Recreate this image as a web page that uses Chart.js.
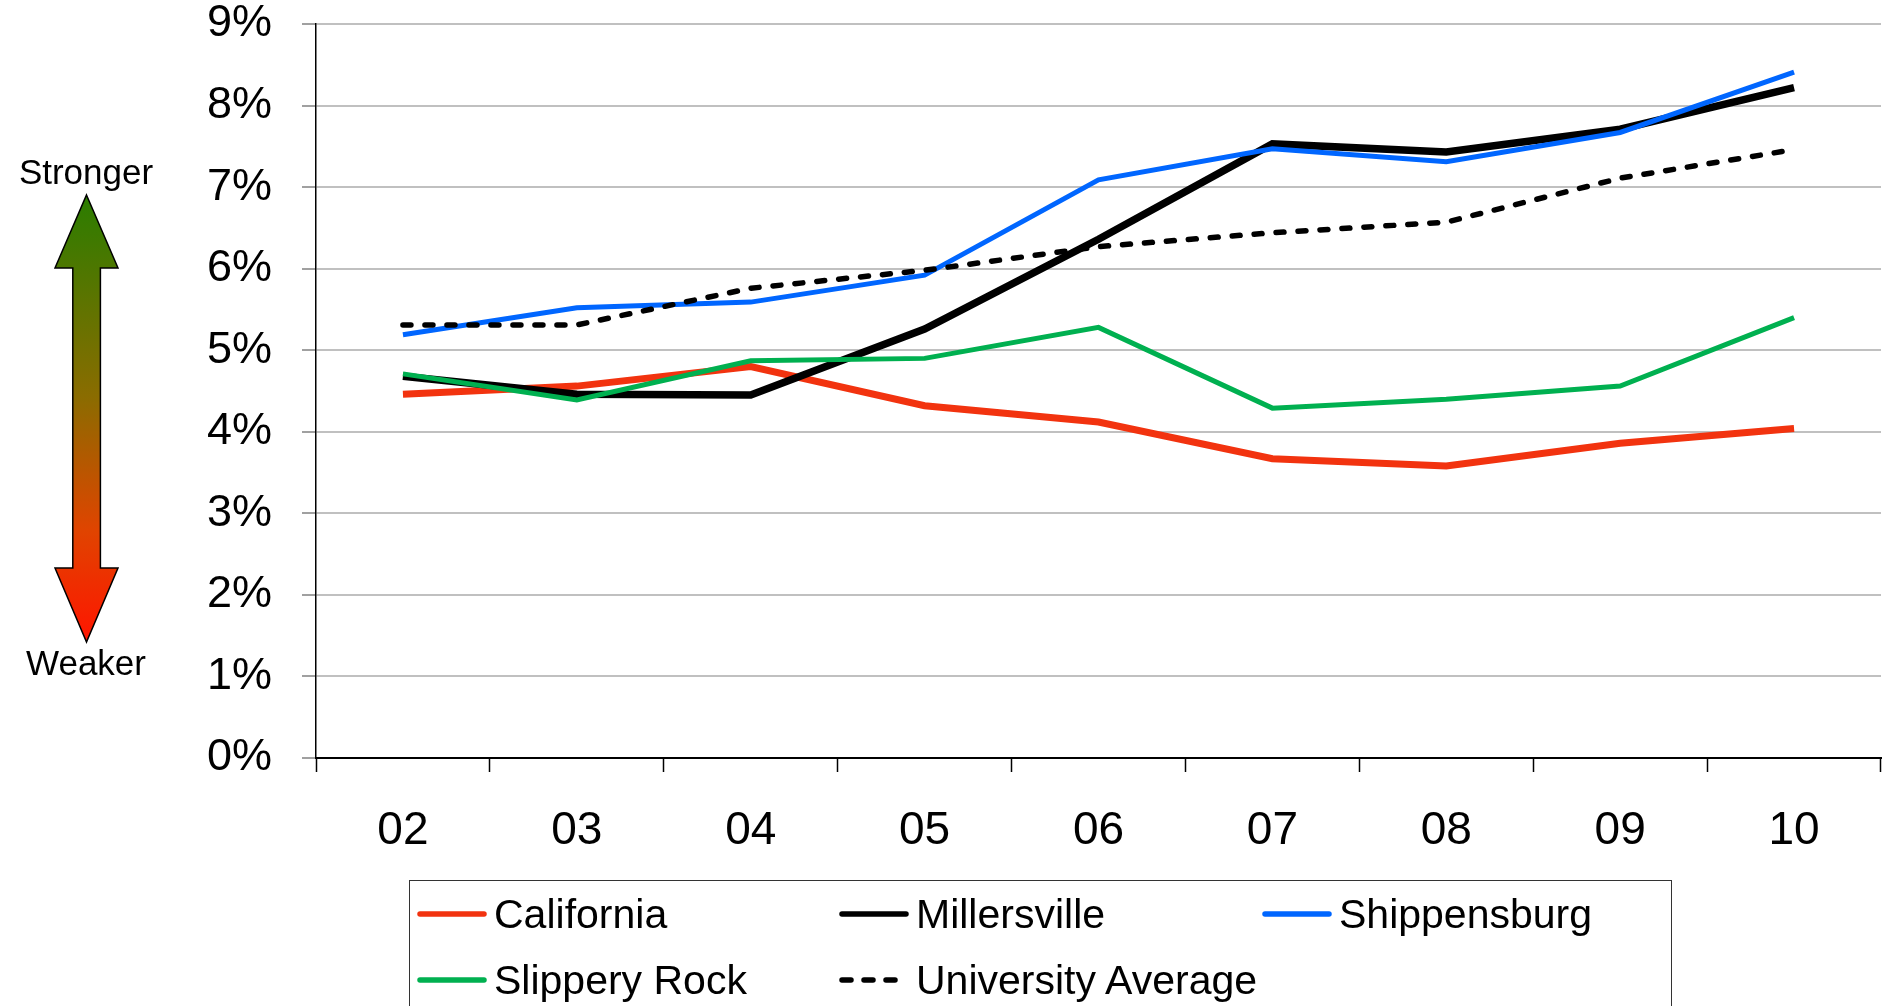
<!DOCTYPE html>
<html>
<head>
<meta charset="utf-8">
<script src="https://cdn.jsdelivr.net/npm/chart.js"></script>
<style>
  html, body { margin: 0; padding: 0; background: #fff; }
  body { width: 1886px; height: 1006px; position: relative; overflow: hidden; font-family: "Liberation Sans", Arial, sans-serif; }
  #chart { position: absolute; left: 0; top: 0; }
  #arrow { position: absolute; left: 0; top: 0; }
  .side { position: absolute; font-size: 35px; color: #000; width: 172px; text-align: center; left: 0; line-height: 1; }
  #legend { position: absolute; left: 409px; top: 880px; width: 1263px; height: 140px; border: 1.5px solid #333; box-sizing: border-box; }
  .item { position: absolute; display: flex; align-items: center; height: 50px; font-size: 41px; color: #000; white-space: nowrap; }
  .swatch { width: 72px; margin-right: 6px; }
</style>
</head>
<body>
<canvas id="chart" width="1886" height="1006"></canvas>
<svg id="arrow" width="180" height="700">
  <defs>
    <linearGradient id="g" x1="0" y1="195" x2="0" y2="642" gradientUnits="userSpaceOnUse">
      <stop offset="0" stop-color="#2a7d00"/>
      <stop offset="0.45" stop-color="#8a6c00"/>
      <stop offset="0.75" stop-color="#e04400"/>
      <stop offset="1" stop-color="#ff1500"/>
    </linearGradient>
  </defs>
  <polygon points="86.5,195 118,268 100.4,268 100.4,568 118,568 86.5,642 55,568 72.8,568 72.8,268 55,268"
           fill="url(#g)" stroke="#000" stroke-width="1.5" stroke-linejoin="miter"/>
</svg>
<div class="side" style="top:154px;">Stronger</div>
<div class="side" style="top:645px;">Weaker</div>
<div id="legend"></div>
<script>
// ---- data ----
const years = ['02', '03', '04', '05', '06', '07', '08', '09', '10'];
const california   = [4.46, 4.56, 4.80, 4.32, 4.12, 3.67, 3.58, 3.86, 4.04];
const millersville = [4.68, 4.46, 4.45, 5.26, 6.36, 7.53, 7.43, 7.71, 8.22];
const shippensburg = [5.19, 5.52, 5.59, 5.92, 7.09, 7.47, 7.31, 7.67, 8.41];
const slipperyRock = [4.71, 4.39, 4.87, 4.90, 5.28, 4.29, 4.40, 4.56, 5.40];
const universityAverage = [5.31, 5.31, 5.76, 5.98, 6.27, 6.44, 6.57, 7.11, 7.46];
const yTickValues = [0, 1, 2, 3, 4, 5, 6, 7, 8, 9];
const seriesNames = ['California', 'Millersville', 'Shippensburg', 'Slippery Rock', 'University Average'];

const FONT = '"Liberation Sans", Arial, sans-serif';

const datasets = [
  { label: seriesNames[0], data: california,   borderColor: '#F2330F', borderWidth: 7, order: 4 },
  { label: seriesNames[1], data: millersville, borderColor: '#000000', borderWidth: 7.5, order: 3 },
  { label: seriesNames[2], data: shippensburg, borderColor: '#0066FF', borderWidth: 5, order: 2 },
  { label: seriesNames[3], data: slipperyRock, borderColor: '#00B050', borderWidth: 5, order: 1 },
  { label: seriesNames[4], data: universityAverage, borderColor: '#000000', borderWidth: 5.5, borderDash: [8, 14], borderCapStyle: 'round', order: 0 }
].map(d => Object.assign({ pointRadius: 0, pointHoverRadius: 0, tension: 0, fill: false, borderJoinStyle: 'miter' }, d));

new Chart(document.getElementById('chart'), {
  type: 'line',
  data: { labels: years, datasets: datasets },
  options: {
    responsive: false,
    devicePixelRatio: 1,
    animation: false,
    layout: { padding: { left: 0, top: 24, right: 5, bottom: 148 } },
    plugins: { legend: { display: false }, tooltip: { enabled: false } },
    scales: {
      x: {
        offset: true,
        grid: { offset: true, drawOnChartArea: false, drawTicks: true, tickLength: 14, tickColor: '#000', tickWidth: 1.5 },
        border: { color: '#000', width: 2 },
        ticks: { color: '#000', font: { family: FONT, size: 46, lineHeight: 1 }, padding: 36, maxRotation: 0 },
        afterFit: s => { s.height = 100; s.paddingLeft = 0; s.paddingRight = 0; }
      },
      y: {
        min: 0, max: 9,
        afterBuildTicks: s => { s.ticks = yTickValues.map(v => ({ value: v })); },
        grid: { color: '#c0c0c0', lineWidth: 2, tickLength: 14, tickColor: '#808080', tickWidth: 1.5 },
        border: { color: '#000', width: 1.5 },
        ticks: { color: '#000', font: { family: FONT, size: 45, lineHeight: 1 }, padding: 30, callback: v => v + '%' },
        afterFit: s => { s.width = 316; s.paddingTop = 0; s.paddingBottom = 0; }
      }
    }
  }
});

// legend built from datasets
const legend = document.getElementById('legend');
const positions = [[6, 8], [428, 8], [851, 8], [6, 74], [428, 74]];
datasets.forEach((d, i) => {
  const item = document.createElement('div');
  item.className = 'item';
  item.style.left = positions[i][0] + 'px';
  item.style.top = positions[i][1] + 'px';
  const sw = document.createElement('canvas');
  sw.className = 'swatch';
  sw.width = 72; sw.height = 12;
  const c = sw.getContext('2d');
  c.strokeStyle = d.borderColor;
  c.lineWidth = 5.5;
  c.lineCap = 'round';
  if (d.borderDash) c.setLineDash([9, 13]);
  c.beginPath(); c.moveTo(4, 6); c.lineTo(68, 6); c.stroke();
  item.appendChild(sw);
  const t = document.createElement('span');
  t.textContent = d.label;
  item.appendChild(t);
  legend.appendChild(item);
});
</script>
</body>
</html>
